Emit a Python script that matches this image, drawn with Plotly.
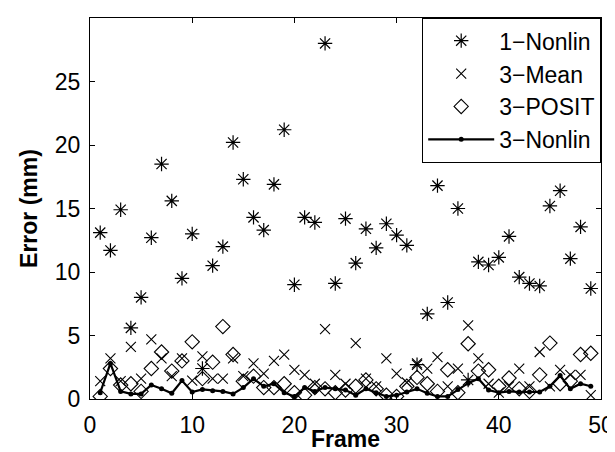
import plotly.graph_objects as go

frames = list(range(1, 50))

nonlin1 = [13.1, 11.7, 14.9, 5.6, 8.0, 12.7, 18.5, 15.6, 9.5, 13.0,
           2.4, 10.5, 12.0, 20.2, 17.3, 14.3, 13.3, 16.9, 21.2, 9.0,
           14.3, 13.9, 28.0, 9.1, 14.2, 10.7, 13.4, 11.9, 13.8, 12.9,
           12.1, 2.7, 6.7, 16.8, 7.6, 15.0, 1.5, 10.8, 10.55, 11.15,
           12.8, 9.6, 9.1, 8.9, 15.2, 16.4, 11.05, 13.55, 8.7]

mean3 = [1.4, 3.2, 1.4, 4.1, 1.6, 4.7, 3.2, 1.8, 3.2, 1.45,
         3.35, 1.6, 1.6, 3.2, 1.8, 2.8, 2.0, 3.0, 3.5, 2.3,
         1.9, 1.2, 5.5, 1.9, 1.2, 4.4, 1.6, 1.0, 3.2, 2.0,
         1.3, 2.8, 2.4, 3.3, 1.0, 2.4, 5.8, 3.2, 1.2, 0.5,
         1.0, 2.4, 1.0, 3.7, 1.0, 2.3, 1.9, 1.9, 0.3]

posit3 = [0.2, 2.4, 1.1, 1.2, 0.6, 2.4, 3.7, 2.2, 3.0, 4.5,
          1.6, 2.9, 5.7, 3.5, 1.4, 1.8, 0.9, 0.9, 1.2, 0.5,
          0.3, 0.9, 0.8, 0.5, 0.7, 1.0, 1.5, 0.8, 0.3, 0.2,
          1.0, 1.7, 1.2, 0.6, 2.3, 0.5, 4.35, 2.2, 2.3, 1.0,
          1.65, 0.8, 0.6, 1.9, 4.4, 1.2, 1.4, 3.5, 3.6]

nonlin3 = [0.5, 2.8, 0.6, 0.4, 0.4, 1.1, 0.8, 0.45, 1.45, 0.55,
           0.75, 0.65, 0.6, 0.4, 0.9, 1.6, 1.0, 1.2, 0.5, 0.2,
           0.9, 0.6, 0.9, 0.8, 0.7, 0.3, 0.8, 0.5, 0.2, 0.3,
           0.55, 0.8, 0.45, 0.2, 0.2, 0.75, 1.25, 1.6, 0.7, 0.5,
           0.6, 0.55, 0.55, 0.55, 1.0, 1.85, 0.8, 1.2, 1.0]

x_ticks = [0, 10, 20, 30, 40, 50]
y_ticks = [0, 5, 10, 15, 20, 25]

FONT = "Liberation Sans, Arial, Helvetica, sans-serif"
FS = 23

fig = go.Figure()
fig.add_trace(go.Scatter(x=frames, y=nonlin1, mode="markers", name="1\u2212Nonlin",
                         marker=dict(symbol="asterisk-open", size=12, color="black",
                                     line=dict(width=1.2, color="black"))))
fig.add_trace(go.Scatter(x=frames, y=mean3, mode="markers", name="3\u2212Mean",
                         marker=dict(symbol="x-thin-open", size=10, color="black",
                                     line=dict(width=1.1, color="black"))))
fig.add_trace(go.Scatter(x=frames, y=posit3, mode="markers", name="3\u2212POSIT",
                         marker=dict(symbol="diamond-open", size=11, color="black",
                                     line=dict(width=1.1, color="black"))))
fig.add_trace(go.Scatter(x=frames, y=nonlin3, mode="lines+markers", name="3\u2212Nonlin",
                         line=dict(color="black", width=2.2),
                         marker=dict(symbol="circle", size=5, color="black")))

fig.update_layout(
    width=615, height=452,
    margin=dict(l=82, r=17, t=9, b=61),
    paper_bgcolor="white", plot_bgcolor="white",
    font=dict(family=FONT, size=FS, color="black"),
    showlegend=True,
    legend=dict(x=1, y=1, xanchor="right", yanchor="top",
                bordercolor="black", borderwidth=1.2, bgcolor="white",
                font=dict(size=FS), tracegroupgap=0, itemwidth=66),
    xaxis=dict(range=[0, 50], tickvals=x_ticks, ticks="inside", ticklen=5,
               showline=True, linecolor="black", linewidth=1.2, mirror="ticks",
               showgrid=False, zeroline=False, tickcolor="black",
               ticklabelstandoff=5),
    yaxis=dict(range=[0, 30], tickvals=y_ticks, ticks="inside", ticklen=5,
               showline=True, linecolor="black", linewidth=1.2, mirror="ticks",
               showgrid=False, zeroline=False, tickcolor="black",
               ticklabelstandoff=4,
               title=dict(text="<b>Error (mm)</b>", standoff=10, font=dict(size=FS))),
    annotations=[dict(text="<b>Frame</b>", xref="paper", yref="paper", x=0.5, y=0,
                      xanchor="center", yanchor="middle", yshift=-40,
                      showarrow=False, font=dict(size=FS))],
)

fig.write_html("out.html")
